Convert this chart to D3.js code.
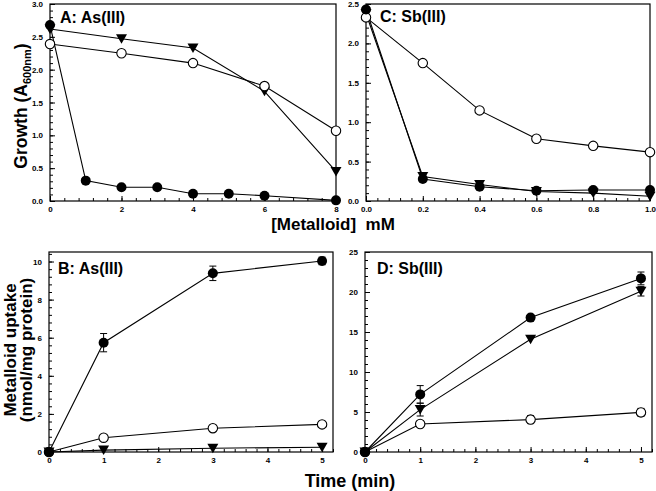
<!DOCTYPE html>
<html><head><meta charset="utf-8">
<script src="https://cdn.jsdelivr.net/npm/d3@7/dist/d3.min.js"></script>
<style>body{margin:0;background:#fff}svg{display:block}text{font-family:"Liberation Sans",Arial,sans-serif;font-weight:bold}</style>
</head><body><svg id="c" width="656" height="491"></svg>
<script>
// Panel A: As(III) growth
const aX = [0,1,2,3,4,5,6,8];
const aFilled = [2.68,0.31,0.21,0.21,0.11,0.11,0.08,0.01];
const aTriX = [0,2,4,6,8];
const aTri = [2.62,2.47,2.33,1.67,0.45];
const aOpenX = [0,2,4,6,8];
const aOpen = [2.39,2.25,2.10,1.75,1.07];
// Panel C: Sb(III) growth
const cX = [0,0.2,0.4,0.6,0.8,1.0];
const cOpen = [2.33,1.75,1.15,0.79,0.70,0.62];
const cFilled = [2.43,0.28,0.18,0.13,0.14,0.14];
const cTri = [2.38,0.31,0.21,0.12,0.10,0.06];
// Panel B: As(III) uptake
const tX = [0,1,3,5];
const bFilled = [0,5.74,9.38,10.03];
const bFilledErr = [0,0.48,0.38,0.2];
const bOpen = [0,0.75,1.25,1.45];
const bTri = [0,0.1,0.2,0.25];
// Panel D: Sb(III) uptake
const dFilled = [0,7.2,16.8,21.7];
const dFilledErr = [0,1.1,0,0.8];
const dTri = [0,5.3,14.1,20.1];
const dTriErr = [0,0.8,0,0.6];
const dOpen = [0,3.5,4.05,4.95];
const dOpenErr = [0,0.3,0.5,0.5];
// tick labels
const aXTicks = [0,2,4,6,8];
const growthYTicksA = [0,0.5,1,1.5,2,2.5,3];
const cXTicks = [0,0.2,0.4,0.6,0.8,1.0];
const growthYTicksC = [0,0.5,1,1.5,2,2.5];
const tTicks = [0,1,2,3,4,5];
const bYTicks = [0,2,4,6,8,10];
const dYTicks = [0,5,10,15,20,25];

const svg = d3.select("#c");

function panel(o){
  const g = svg.append("g");
  const x = d3.scaleLinear().domain(o.xd).range([o.l,o.r]);
  const y = d3.scaleLinear().domain(o.yd).range([o.b,o.t]);
  // minor ticks
  const xa = d3.axisBottom(x).tickValues(d3.range(o.xd[0],o.xd[1]+1e-9,o.xm)).tickSize(-3).tickFormat("");
  g.append("g").attr("transform",`translate(0,${o.b})`).call(xa);
  const ya = d3.axisLeft(y).tickValues(d3.range(o.yd[0],o.yd[1]+1e-9,o.ym)).tickSize(-3).tickFormat("");
  g.append("g").attr("transform",`translate(${o.l},0)`).call(ya);
  // major ticks
  const xM = d3.axisBottom(x).tickValues(o.xt).tickSize(-5).tickPadding(5).tickFormat(o.xf);
  const gx = g.append("g").attr("transform",`translate(0,${o.b})`).call(xM);
  const yM = d3.axisLeft(y).tickValues(o.yt).tickSize(-5).tickPadding(7).tickFormat(o.yf);
  const gy = g.append("g").attr("transform",`translate(${o.l},0)`).call(yM);
  g.selectAll(".domain").remove();
  g.selectAll(".tick line").attr("stroke","#000").attr("stroke-width",1);
  g.selectAll(".tick text").attr("font-size",8).attr("fill","#000").attr("font-family","Liberation Sans, Arial").attr("font-weight","bold");
  gx.selectAll(".tick text").attr("dy","0.71em");
  // frame
  g.append("rect").attr("x",o.l).attr("y",o.t).attr("width",o.r-o.l).attr("height",o.b-o.t)
    .attr("fill","none").attr("stroke","#000").attr("stroke-width",1.2);
  g.append("text").attr("x",o.lx).attr("y",o.ly).attr("font-size",16).text(o.label);
  return {g,x,y};
}

function series(p, xs, ys, kind, errs){
  const line = d3.line().x((d,i)=>p.x(xs[i])).y(d=>p.y(d));
  p.g.append("path").attr("d",line(ys)).attr("fill","none").attr("stroke","#000").attr("stroke-width",1.1);
  if(errs){
    ys.forEach((v,i)=>{
      const e = errs[i]; if(!e) return;
      const cx = p.x(xs[i]);
      p.g.append("line").attr("x1",cx).attr("x2",cx).attr("y1",p.y(v-e)).attr("y2",p.y(v+e)).attr("stroke","#000");
      [v-e,v+e].forEach(w=>p.g.append("line").attr("x1",cx-3.5).attr("x2",cx+3.5).attr("y1",p.y(w)).attr("y2",p.y(w)).attr("stroke","#000"));
    });
  }
}
function markers(p, xs, ys, kind){
  ys.forEach((v,i)=>{
    const cx = p.x(xs[i]), cy = p.y(v);
    if(kind==="filled") p.g.append("circle").attr("cx",cx).attr("cy",cy).attr("r",5).attr("fill","#000");
    else if(kind==="open") p.g.append("circle").attr("cx",cx).attr("cy",cy).attr("r",4.7).attr("fill","#fff").attr("stroke","#000").attr("stroke-width",1.1);
    else p.g.append("path").attr("d",`M${cx-5.5},${cy-4.5}L${cx+5.5},${cy-4.5}L${cx},${cy+5}Z`).attr("fill","#000");
  });
}

const f1 = d3.format(".1f");
const A = panel({xd:[0,8],yd:[0,3],l:50,r:336,t:4,b:201,xm:0.4,ym:0.1,xt:aXTicks,yt:growthYTicksA,xf:d3.format("d"),yf:f1,label:"A: As(III)",lx:60,ly:23});
series(A,aX,aFilled); series(A,aTriX,aTri); series(A,aOpenX,aOpen);
markers(A,aTriX,aTri,"tri"); markers(A,aOpenX,aOpen,"open"); markers(A,aX,aFilled,"filled");

const C = panel({xd:[0,1],yd:[0,2.5],l:366,r:650,t:4,b:201,xm:0.04,ym:0.1,xt:cXTicks,yt:growthYTicksC,xf:f1,yf:f1,label:"C: Sb(III)",lx:380,ly:22});
series(C,cX,cOpen); series(C,cX,cFilled); series(C,cX,cTri);
markers(C,cX,cTri,"tri"); markers(C,cX,cOpen,"open"); markers(C,cX,cFilled,"filled");

const B = panel({xd:[0,5.2],yd:[0,10.5],l:49,r:333,t:252,b:452,xm:0.2,ym:0.4,xt:tTicks,yt:bYTicks,xf:d3.format("d"),yf:d3.format("d"),label:"B: As(III)",lx:58,ly:274});
series(B,tX,bFilled,null,bFilledErr); series(B,tX,bOpen); series(B,tX,bTri);
markers(B,tX,bTri,"tri"); markers(B,tX,bOpen,"open"); markers(B,tX,bFilled,"filled");

const D = panel({xd:[0,5.2],yd:[0,25],l:365,r:652,t:252,b:452,xm:0.2,ym:1,xt:tTicks,yt:dYTicks,xf:d3.format("d"),yf:d3.format("d"),label:"D: Sb(III)",lx:377,ly:274});
series(D,tX,dFilled,null,dFilledErr); series(D,tX,dTri,null,dTriErr); series(D,tX,dOpen,null,dOpenErr);
markers(D,tX,dTri,"tri"); markers(D,tX,dOpen,"open"); markers(D,tX,dFilled,"filled");

// axis titles
const gt = svg.append("text").attr("transform","translate(27,106) rotate(-90)").attr("text-anchor","middle").attr("font-size",17.5);
gt.append("tspan").text("Growth (A");
gt.append("tspan").attr("font-size",11).attr("dy",4).text("600nm");
gt.append("tspan").attr("dy",-4).text(")");
svg.append("text").attr("x",333).attr("y",230).attr("text-anchor","middle").attr("font-size",17).attr("xml:space","preserve").text("[Metalloid]  mM");
svg.append("text").attr("transform","translate(16,350) rotate(-90)").attr("text-anchor","middle").attr("font-size",17).text("Metalloid uptake");
svg.append("text").attr("transform","translate(32,350) rotate(-90)").attr("text-anchor","middle").attr("font-size",17).text("(nmol/mg protein)");
svg.append("text").attr("x",350).attr("y",487).attr("text-anchor","middle").attr("font-size",18).text("Time (min)");
</script></body></html>
